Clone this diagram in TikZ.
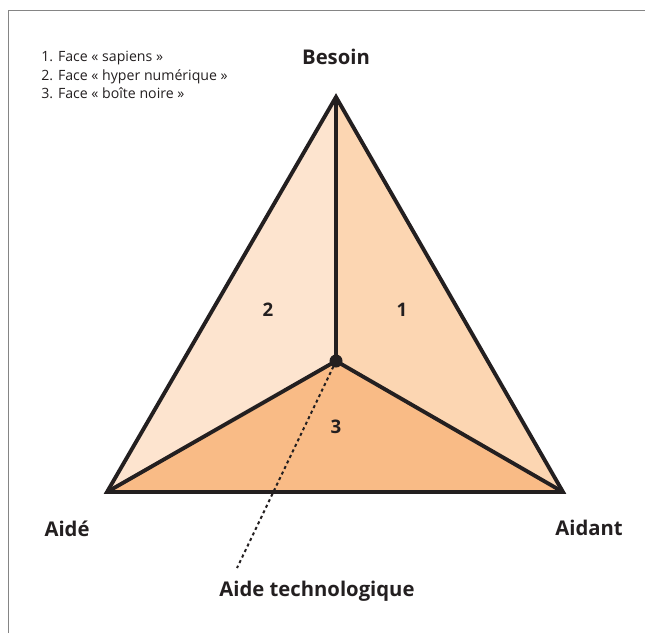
\documentclass[tikz,border=0pt]{standalone}
\usepackage{fontspec}
\setmainfont{Open Sans}
\definecolor{edge}{HTML}{231F20}
\definecolor{faceA}{HTML}{FCD6B2}
\definecolor{faceB}{HTML}{FDE4CF}
\definecolor{faceC}{HTML}{F9BB86}
\definecolor{frame}{HTML}{858585}
\tikzset{
  vertexlabel/.style={font=\fontsize{15.2}{17}\selectfont\bfseries, text=edge},
  facelabel/.style={font=\fontsize{14}{16}\selectfont\bfseries, text=edge},
  legend/.style={font=\fontsize{10.6}{13.9}\selectfont, text=edge, align=left, anchor=north west, inner sep=0pt},
  ridge/.style={draw=edge, line width=2.9pt, line join=miter},
}
\begin{document}
\begin{tikzpicture}[x=0.75pt, y=-0.75pt]
\useasboundingbox (0,0) rectangle (645,633);
% partial frame
\draw[frame, line width=1.1pt] (8.5,633) -- (8.5,10.5) -- (645,10.5);

\coordinate (top) at (336,97);
\coordinate (left) at (107,492);
\coordinate (right) at (563,492);
\coordinate (mid) at (336,361);

% faces
\fill[faceB] (top) -- (mid) -- (left) -- cycle;
\fill[faceA] (top) -- (right) -- (mid) -- cycle;
\fill[faceC] (left) -- (mid) -- (right) -- cycle;

% edges
\draw[ridge] (top) -- (left) -- (right) -- cycle;
\draw[ridge] (top) -- (mid);
\draw[ridge] (left) -- (mid) -- (right);

% dotted lead
\coordinate (lead) at (237,568);
\draw[edge, line width=1.5pt, dash pattern=on 2.3pt off 2.3pt] (mid) -- (lead);
\fill[edge] (mid) circle (6.5);

% labels
\node[vertexlabel] (besoin) at (336,57) {Besoin};
\node[vertexlabel] (aide) at (67,529) {Aidé};
\node[vertexlabel] (aidant) at (589,528) {Aidant};
\node[vertexlabel] (techno) at (317,591) {Aide technologique};

\node[facelabel] (f1) at (402,310) {1};
\node[facelabel] (f2) at (268,310) {2};
\node[facelabel] (f3) at (336,427) {3};

\node[legend] (legende) at (41,51) {1. Face « sapiens »\\2. Face « hyper numérique »\\3. Face « boîte noire »};
\end{tikzpicture}
\end{document}
